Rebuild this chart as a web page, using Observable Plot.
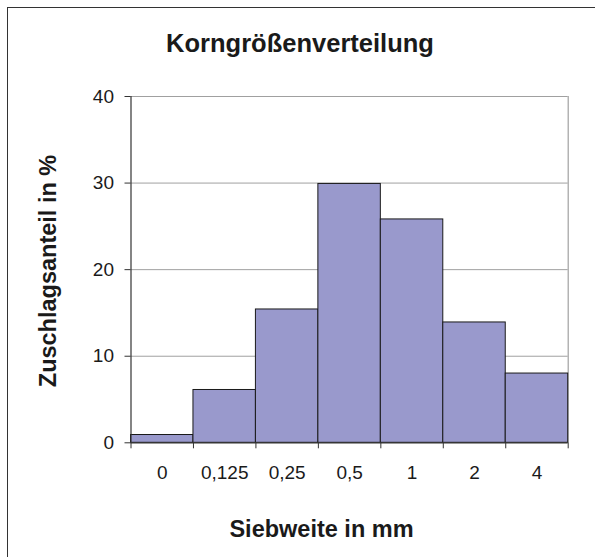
<!DOCTYPE html>
<html>
<head>
<meta charset="utf-8">
<script src="https://cdn.jsdelivr.net/npm/d3@7"></script>
<script src="https://cdn.jsdelivr.net/npm/@observablehq/plot@0.6"></script>
<style>
  body { margin: 0; background: #fff; }
  #wrap { position: relative; width: 595px; height: 557px; overflow: hidden; background: #fff;
          font-family: "Liberation Sans", Arial, Helvetica, sans-serif; color: #1a1a1a; }
  #frame { position: absolute; left: 7px; top: 7px; width: 700px; height: 700px;
           border-left: 1.5px solid #333; border-top: 1.5px solid #333; }
  #chart { position: absolute; left: 0; top: 0; }
  .lbl { position: absolute; font-weight: bold; line-height: 1; white-space: nowrap; }
  #title { left: 0; width: 600px; top: 30.5px; text-align: center; font-size: 25.5px; }
  #ylab { left: 49px; top: 271px; font-size: 23.5px; transform: translate(-50%, -50%) rotate(-90deg); }
  #xlab { left: 321.5px; top: 518px; font-size: 23.5px; transform: translateX(-50%); }
</style>
</head>
<body>
<div id="wrap">
  <div id="frame"></div>
  <div id="chart"></div>
  <div id="title" class="lbl">Korngrößenverteilung</div>
  <div id="ylab" class="lbl">Zuschlagsanteil in %</div>
  <div id="xlab" class="lbl">Siebweite in mm</div>
</div>
<script>
const categories = ["0", "0,125", "0,25", "0,5", "1", "2", "4"];
const values = [0.9, 6.1, 15.4, 29.9, 25.8, 13.9, 8.0];
const yTicks = [0, 10, 20, 30, 40];

const data = categories.map((c, i) => ({cat: c, i, val: values[i]}));
const n = categories.length;

const chart = Plot.plot({
  width: 595,
  height: 557,
  marginLeft: 130.5,
  marginRight: 27.3,
  marginTop: 96,
  marginBottom: 114.7,
  style: {fontFamily: '"Liberation Sans", Arial, sans-serif', color: "#1a1a1a", background: "transparent"},
  x: {type: "linear", domain: [0, n], axis: null, label: null},
  y: {domain: [0, 40], axis: null, label: null},
  marks: [
    Plot.ruleY(yTicks.filter(d => d > 0), {stroke: "#a0a0a0", strokeWidth: 1}),
    Plot.ruleX([n], {stroke: "#a0a0a0", strokeWidth: 1.2}),
    Plot.rectY(data, {x1: d => d.i, x2: d => d.i + 1, y: "val", fill: "#9999cc", stroke: "#1a1a1a", strokeWidth: 1}),
    Plot.ruleX([0], {stroke: "#333", strokeWidth: 1.2}),
    Plot.ruleY([0], {stroke: "#333", strokeWidth: 1.2}),
    Plot.axisY(yTicks, {label: null, tickSize: 6, tickPadding: 11, fontSize: 19, stroke: "#333", fill: "#1a1a1a"}),
    Plot.axisX(d3.range(n + 1), {label: null, tickSize: 6, tickFormat: () => "", stroke: "#333"}),
    Plot.axisX(data.map(d => d.i + 0.5), {label: null, tickSize: 0, tickPadding: 22.7, fontSize: 19, fill: "#1a1a1a",
      tickFormat: v => categories[Math.round(v - 0.5)]})
  ]
});
document.getElementById("chart").appendChild(chart);
</script>
</body>
</html>
